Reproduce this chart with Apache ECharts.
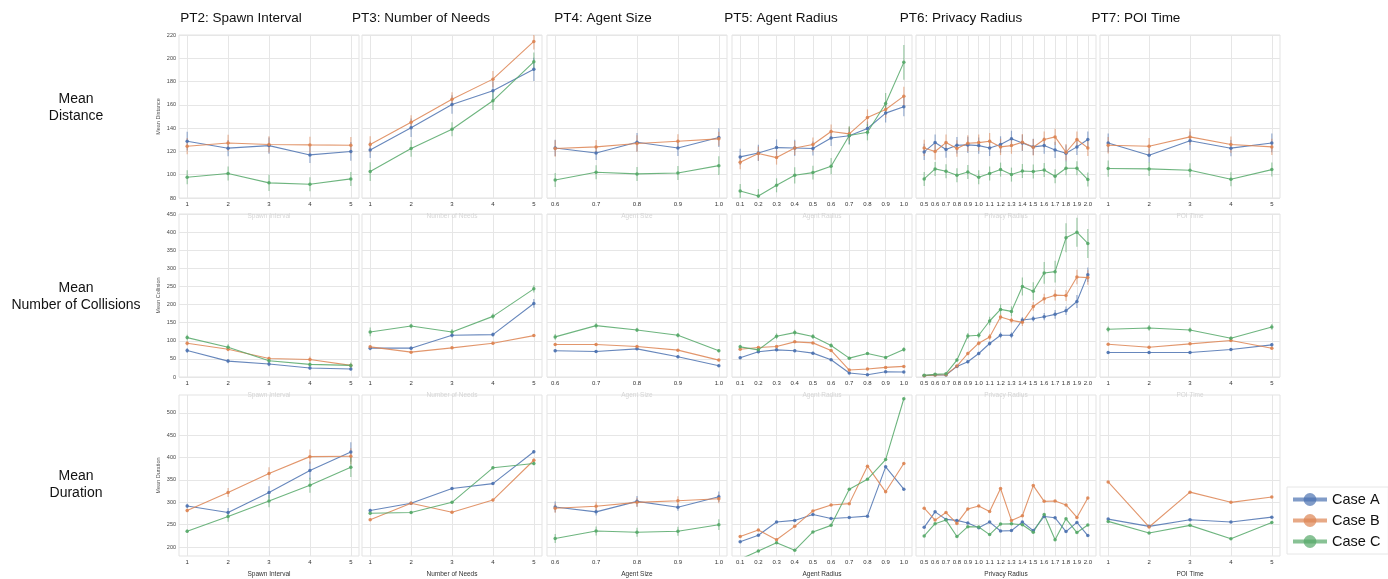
<!DOCTYPE html>
<html>
<head>
<meta charset="utf-8">
<script src="https://cdn.jsdelivr.net/npm/echarts@6/dist/echarts.min.js"></script>
<style>html,body{margin:0;padding:0;background:#fff;}#chart{width:1388px;height:579px;}</style>
</head>
<body>
<div id="chart"></div>
<script>
// ---------- labels ----------
const caseNames = ['Case A', 'Case B', 'Case C'];
const colTitles = ['PT2: Spawn Interval', 'PT3: Number of Needs', 'PT4: Agent Size', 'PT5: Agent Radius', 'PT6: Privacy Radius', 'PT7: POI Time'];
const rowTitles = ['Mean\nDistance', 'Mean\nNumber of Collisions', 'Mean\nDuration'];
const yAxisNames = ['Mean Distance', 'Mean Collision', 'Mean Duration'];
const xAxisNames = ['Spawn Interval', 'Number of Needs', 'Agent Size', 'Agent Radius', 'Privacy Radius', 'POI Time'];

// ---------- x categories ----------
const xPT2 = [1, 2, 3, 4, 5];
const xPT3 = [1, 2, 3, 4, 5];
const xPT4 = [0.6, 0.7, 0.8, 0.9, 1.0];
const xPT5 = [0.1, 0.2, 0.3, 0.4, 0.5, 0.6, 0.7, 0.8, 0.9, 1.0];
const xPT6 = [0.5, 0.6, 0.7, 0.8, 0.9, 1.0, 1.1, 1.2, 1.3, 1.4, 1.5, 1.6, 1.7, 1.8, 1.9, 2.0];
const xPT7 = [1, 2, 3, 4, 5];

// ---------- y tick labels ----------
const yTicksDistance = [80, 100, 120, 140, 160, 180, 200, 220];
const yTicksCollision = [0, 50, 100, 150, 200, 250, 300, 350, 400, 450];
const yTicksDuration = [200, 250, 300, 350, 400, 450, 500];

// ---------- Mean Distance: [Case A, Case B, Case C] ----------
const distPT2 = [[128.8, 122.8, 125, 117, 120], [124.5, 127.3, 126, 125.6, 125.3], [97.8, 101, 93, 91.8, 96.4]];
const distPT2Err = [[8, 7, 7, 7, 8], [7, 7, 7, 7, 7], [6, 6, 7, 6, 6]];
const distPT3 = [[121.3, 140.3, 160.3, 172.1, 190.5], [126, 145.1, 164.9, 182.1, 214.5], [102.7, 122.5, 139.1, 163.5, 197]];
const distPT3Err = [[7, 8, 8, 8, 10], [7, 6, 6, 7, 7], [8, 7, 6, 8, 8]];
const distPT4 = [[123, 118.7, 127.9, 123, 131.9], [122.5, 123.9, 126.8, 128.8, 130.8], [95.5, 102.1, 100.7, 101.5, 107.8]];
const distPT4Err = [[7, 6, 8, 7, 8], [7, 6, 7, 6, 6], [6, 6, 6, 6, 8]];
const distPT5 = [[115.3, 118.7, 123.3, 123, 122.5, 131.6, 133.4, 139.7, 152.9, 158.3],
                 [110.7, 118.2, 114.7, 123, 125.9, 137.1, 135.1, 149.1, 156, 167.5],
                 [86, 81.7, 90.9, 99.5, 101.8, 107.3, 133.7, 136.5, 161.2, 196.5]];
const distPT5Err = [[7, 7, 7, 7, 6, 7, 7, 6, 8, 8], [6, 6, 6, 6, 6, 6, 6, 7, 7, 8], [6, 6, 6, 7, 6, 7, 8, 7, 9, 15]];
const distPT6 = [[119.6, 127.6, 121.6, 125.3, 125.6, 125, 123, 126, 130.8, 127.3, 123.9, 125, 121.3, 118.4, 123.9, 130.2],
                 [123, 119.9, 127.6, 122.5, 127, 127.6, 128.8, 123.9, 125, 127.9, 123.6, 130.2, 132.5, 119.3, 130.2, 123],
                 [96.4, 105, 103, 99.5, 102.4, 97.8, 101, 104.4, 100.1, 103.2, 102.7, 104.1, 98.7, 105.5, 105.5, 95.8]];
const distPT6Err = [[7, 7, 7, 7, 7, 7, 7, 7, 7, 7, 7, 7, 7, 7, 7, 7], [7, 7, 7, 7, 7, 7, 7, 7, 7, 7, 7, 7, 7, 7, 7, 7], [6, 6, 6, 6, 6, 6, 6, 6, 6, 6, 6, 6, 6, 6, 6, 6]];
const distPT7 = [[127.3, 116.7, 129.1, 122.8, 127.3], [125.3, 124.5, 132.5, 125.9, 123.9], [105.3, 105, 103.8, 96.1, 104.4]];
const distPT7Err = [[8, 6, 8, 7, 8], [7, 7, 7, 7, 7], [7, 6, 6, 6, 6]];

// ---------- Mean Number of Collisions ----------
const collPT2 = [[73.2, 43.9, 35.7, 24.7, 22], [93.3, 76.8, 51.2, 48.5, 32], [108.8, 82.3, 44.8, 34.8, 32]];
const collPT2Err = [[7, 6, 6, 5, 4], [6, 6, 5, 8, 5], [8, 8, 6, 6, 8]];
const collPT3 = [[79.6, 79.6, 115.2, 117, 203], [83.2, 68.6, 80.5, 93.3, 114.3], [124.4, 140.9, 124.4, 167.4, 243.3]];
const collPT3Err = [[6, 5, 6, 6, 12], [4, 3, 4, 4, 4], [12, 6, 8, 8, 10]];
const collPT4 = [[72.3, 70.4, 77.7, 55.8, 31.1], [89.6, 89.6, 84.1, 74.1, 46.6], [110.7, 141.8, 129.9, 115.2, 72.3]];
const collPT4Err = [[4, 4, 4, 4, 3], [3, 3, 3, 3, 3], [8, 8, 6, 6, 4]];
const collPT5 = [[53, 69.5, 75, 72.3, 65.9, 47.6, 11, 6.4, 14.6, 13.7],
                 [76.8, 81.4, 84.1, 97, 94.2, 73.2, 19.2, 22, 26.5, 29.3],
                 [83.2, 75, 112.5, 122.6, 111.6, 86.9, 52.1, 64.9, 54, 75.9]];
const collPT5Err = [[4, 4, 4, 4, 4, 3, 2, 2, 2, 2], [3, 3, 3, 3, 3, 3, 2, 2, 2, 2], [6, 6, 8, 8, 7, 6, 4, 4, 4, 6]];
const collPT6 = [[3.7, 5.5, 5.5, 29.3, 42.1, 64.9, 92.4, 115.2, 115.2, 157.3, 161, 166.5, 172.9, 182.9, 208.5, 282.6],
                 [3.7, 5.5, 6.4, 30.2, 64.9, 93.3, 110.7, 165.6, 156.4, 150.9, 194.8, 215.9, 225.9, 225, 276.2, 274.4],
                 [4.6, 7.3, 9.1, 46.6, 113.4, 115.2, 154.6, 186.6, 181.1, 249.7, 236.9, 287.2, 290.9, 384.2, 399.7, 368.6]];
const collPT6Err = [[1, 1, 1, 3, 4, 5, 6, 8, 8, 8, 8, 10, 12, 12, 18, 20],
                    [1, 1, 1, 3, 5, 6, 8, 8, 8, 10, 12, 14, 15, 15, 20, 20],
                    [1, 1, 1, 4, 8, 8, 12, 14, 14, 25, 25, 30, 30, 40, 40, 40]];
const collPT7 = [[67.7, 67.7, 67.7, 75.9, 88.7], [90.6, 82.3, 91.5, 100.6, 79.6], [131.7, 135.4, 129.9, 107, 138.1]];
const collPT7Err = [[4, 4, 4, 4, 5], [3, 3, 3, 3, 3], [8, 8, 7, 5, 8]];

// ---------- Mean Duration ----------
const durPT2 = [[291.9, 277.2, 322, 371.3, 412.5], [281.6, 322, 364.7, 402.2, 403], [235.3, 268.4, 303, 338.2, 378.7]];
const durPT2Err = [[5, 10, 14, 20, 22], [4, 10, 14, 16, 18], [4, 12, 14, 17, 22]];
const durPT3 = [[281.6, 297.8, 330.9, 341.9, 413.2], [261, 297.8, 278, 305.1, 394.1], [275.7, 277.2, 300, 377.2, 386.8]];
const durPT3Err = [[4, 3, 3, 3, 4], [3, 3, 3, 3, 4], [3, 3, 3, 3, 4]];
const durPT4 = [[289.7, 278.7, 302.2, 289, 312.5], [286.8, 291.2, 300, 303.7, 308.1], [219.1, 236, 233.1, 235.3, 250]];
const durPT4Err = [[12, 8, 12, 8, 12], [10, 10, 10, 10, 10], [10, 10, 10, 10, 12]];
const durPT5 = [[211.8, 226.5, 255.9, 259.6, 272.8, 264, 266.2, 269.1, 379.4, 329.4],
                [223.5, 238.2, 216.2, 246.3, 280.9, 294.1, 297.1, 380.9, 323.5, 386.8],
                [172.8, 191.2, 209.6, 192.6, 233.8, 248.5, 329.4, 351.5, 395.6, 531.6]];
const durPT5Err = [[1, 1, 1, 1, 1, 1, 1, 1, 1, 1], [1, 1, 1, 1, 1, 1, 1, 1, 1, 1], [1, 1, 1, 1, 1, 1, 1, 1, 1, 1]];
const durPT6 = [[244.1, 278.7, 261.8, 259.6, 253.7, 243.4, 255.9, 236, 236.8, 255.9, 236.8, 268.4, 265.4, 234.6, 255.1, 225.7],
                [286.8, 260.3, 277.2, 252.9, 285.3, 291.9, 279.4, 330.9, 259.6, 269.9, 337.5, 302.2, 302.9, 294.1, 266.2, 309.6],
                [225, 252.2, 260.3, 223.5, 245.6, 244.9, 227.9, 251.5, 252.2, 250, 233.1, 272.8, 216.2, 263.2, 232.4, 249.3]];
const durPT6Err = [[1, 1, 1, 1, 1, 1, 1, 1, 1, 1, 1, 1, 1, 1, 1, 1], [1, 1, 1, 1, 1, 1, 1, 1, 1, 1, 1, 1, 1, 1, 1, 1], [1, 1, 1, 1, 1, 1, 1, 1, 1, 1, 1, 1, 1, 1, 1, 1]];
const durPT7 = [[262.5, 246.3, 261, 255.9, 266.9], [345.6, 244.9, 322.8, 300, 311.8], [257.4, 231.6, 248.5, 218.4, 255.1]];
const durPT7Err = [[1, 1, 1, 1, 1], [1, 1, 1, 1, 1], [1, 1, 1, 1, 1]];

// ---------- assemble ----------
const xCols = [xPT2, xPT3, xPT4, xPT5, xPT6, xPT7];
const rowsData = [
  [[distPT2, distPT2Err], [distPT3, distPT3Err], [distPT4, distPT4Err], [distPT5, distPT5Err], [distPT6, distPT6Err], [distPT7, distPT7Err]],
  [[collPT2, collPT2Err], [collPT3, collPT3Err], [collPT4, collPT4Err], [collPT5, collPT5Err], [collPT6, collPT6Err], [collPT7, collPT7Err]],
  [[durPT2, durPT2Err], [durPT3, durPT3Err], [durPT4, durPT4Err], [durPT5, durPT5Err], [durPT6, durPT6Err], [durPT7, durPT7Err]]
];
const yTicks = [yTicksDistance, yTicksCollision, yTicksDuration];
const yRanges = [[80, 220], [0, 450], [180, 540]];

const COLORS = ['#4C72B0', '#DD8452', '#55A868'];
const FONT = 'Liberation Sans, Arial, Helvetica, sans-serif';
const colLeft = [179, 362, 547, 732, 916, 1100];
const rowTop = [35, 214, 395];
const PW = 180, PH = 163;

const grids = [], xAxes = [], yAxes = [], lineSeries = [], errSeries = [];
function fmtX(xs) {
  const dec = xs.some(v => Math.round(v) !== v) ? 1 : 0;
  return v => Number(v).toFixed(dec);
}
for (let r = 0; r < 3; r++) {
  for (let c = 0; c < 6; c++) {
    const idx = grids.length;
    grids.push({left: colLeft[c], top: rowTop[r], width: PW, height: PH, show: true,
      borderColor: '#e3e3e3', borderWidth: 1, backgroundColor: '#fff'});
    const xs = xCols[c];
    const span = xs[xs.length - 1] - xs[0];
    const f = fmtX(xs);
    xAxes.push({type: 'value', gridIndex: idx,
      min: xs[0] - 0.05 * span, max: xs[xs.length - 1] + 0.05 * span,
      axisLine: {show: false}, axisTick: {show: false, customValues: xs},
      axisLabel: {customValues: xs, formatter: f, fontSize: 6, color: '#333', margin: 3, fontFamily: FONT},
      splitLine: {show: true, lineStyle: {color: '#e6e6e6', width: 1}},
      name: xAxisNames[c], nameLocation: 'middle', nameGap: 15,
      nameTextStyle: {fontSize: 6.5, color: r === 2 ? '#333' : '#d6d6d6', fontFamily: FONT}
    });
    const yt = yTicks[r];
    yAxes.push({type: 'value', gridIndex: idx, min: yRanges[r][0], max: yRanges[r][1],
      axisLine: {show: false}, axisTick: {show: false, customValues: yt},
      axisLabel: {show: c === 0, customValues: yt, fontSize: 5.5, color: '#444', margin: 3, fontFamily: FONT},
      splitLine: {show: true, lineStyle: {color: '#e6e6e6', width: 1}},
      name: c === 0 ? yAxisNames[r] : '', nameLocation: 'middle', nameGap: 18,
      nameTextStyle: {fontSize: 5.5, color: '#555', fontFamily: FONT}
    });
    const [vals, errs] = rowsData[r][c];
    for (let s = 0; s < 3; s++) {
      lineSeries.push({type: 'line', name: caseNames[s], xAxisIndex: idx, yAxisIndex: idx,
        data: xs.map((x, i) => [x, vals[s][i]]),
        symbol: 'circle', symbolSize: 3.5, showSymbol: true,
        itemStyle: {color: COLORS[s], opacity: 0.9},
        lineStyle: {color: COLORS[s], width: 1.1, opacity: 0.85},
        emphasis: {disabled: true}, animation: false, clip: true, z: 3});
      errSeries.push({type: 'custom', name: caseNames[s], xAxisIndex: idx, yAxisIndex: idx,
        data: xs.map((x, i) => [x, vals[s][i], errs[s][i]]),
        clip: true, animation: false, z: 2, silent: true,
        renderItem: (params, api) => {
          const x = api.value(0), y = api.value(1), e = api.value(2);
          const p1 = api.coord([x, y - e]), p2 = api.coord([x, y + e]);
          return {type: 'line', shape: {x1: p1[0], y1: p1[1], x2: p2[0], y2: p2[1]},
            style: {stroke: COLORS[s], lineWidth: 1.2, opacity: 0.55}};
        }});
    }
  }
}

const titleXs = [241, 421, 603, 781, 961, 1136];
const rowYs = [108, 297, 485];
const graphics = [];
colTitles.forEach((t, i) => graphics.push({type: 'text', x: titleXs[i], y: 18,
  style: {text: t, fill: '#111', font: '13.5px ' + FONT, align: 'center', verticalAlign: 'middle'}}));
rowTitles.forEach((t, i) => graphics.push({type: 'text', x: 76, y: rowYs[i],
  style: {text: t, fill: '#111', font: '14px ' + FONT, align: 'center', verticalAlign: 'middle', lineHeight: 17}}));

const chart = echarts.init(document.getElementById('chart'), null, {renderer: 'canvas'});
chart.setOption({
  animation: false,
  backgroundColor: '#fff',
  grid: grids, xAxis: xAxes, yAxis: yAxes,
  series: lineSeries.concat(errSeries),
  graphic: graphics,
  legend: {data: caseNames, orient: 'vertical', left: 1287, top: 487,
    itemWidth: 34, itemHeight: 16, itemGap: 6, padding: [5, 8, 5, 4],
    borderColor: '#e6e6e6', borderWidth: 1,
    textStyle: {fontSize: 14.5, color: '#111', fontFamily: FONT},
    lineStyle: {width: 4, opacity: 0.7}, itemStyle: {opacity: 0.7}}
});
</script>
</body>
</html>
